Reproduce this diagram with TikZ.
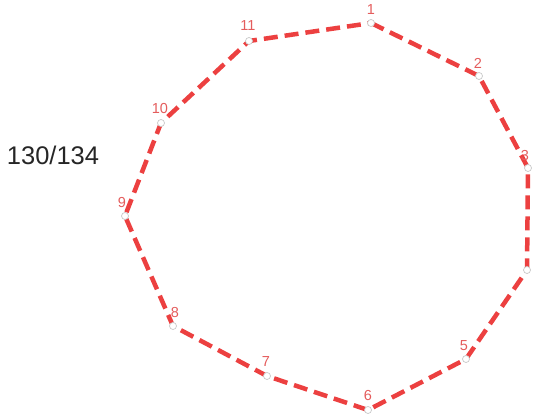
\documentclass[tikz,border=0pt]{standalone}
\usepackage{fontspec}
\setmainfont{Liberation Sans}
\definecolor{lred}{RGB}{236,64,64}
\definecolor{labred}{RGB}{228,92,92}
\definecolor{ptgray}{RGB}{200,200,200}
\begin{document}
\begin{tikzpicture}[x=1pt,y=-1pt,
  pt/.style={circle,draw=ptgray,fill=white,line width=0.7pt,inner sep=0pt,minimum size=7pt},
  lab/.style={text=labred,font=\fontsize{14.5}{14.5}\selectfont,inner sep=0pt},
  edge/.style={draw=lred,line width=4.5pt,dash pattern=on 14pt off 7pt}]
\useasboundingbox (0,0) rectangle (535,419);
\coordinate (c1) at (371,23);
\coordinate (c2) at (479,76);
\coordinate (c3) at (528,168);
\coordinate (c4) at (527,270);
\coordinate (c5) at (466,359);
\coordinate (c6) at (368,410);
\coordinate (c7) at (267,376);
\coordinate (c8) at (173,326);
\coordinate (c9) at (125,216);
\coordinate (c10) at (161,123);
\coordinate (c11) at (249,41);
\draw[edge] (c1) -- (c2) -- (c3) -- (c4) -- (c5) -- (c6) -- (c7) -- (c8) -- (c9) -- (c10) -- (c11) -- cycle;
\foreach \i in {1,...,11} { \node[pt] (p\i) at (c\i) {}; }
\node[lab] (l1) at (371,10) {1};
\node[lab] (l2) at (478,63) {2};
\node[lab] (l3) at (525,156) {3};
\node[lab] (l5) at (464,346) {5};
\node[lab] (l6) at (368,396) {6};
\node[lab] (l7) at (266,362) {7};
\node[lab] (l8) at (175,313) {8};
\node[lab] (l9) at (122,203) {9};
\node[lab] (l10) at (160,109) {10};
\node[lab] (l11) at (248,26) {11};
\node[font=\fontsize{25.5}{25.5}\selectfont,text=black!85,inner sep=0pt] (title) at (53,155) {130/134};
\end{tikzpicture}
\end{document}
